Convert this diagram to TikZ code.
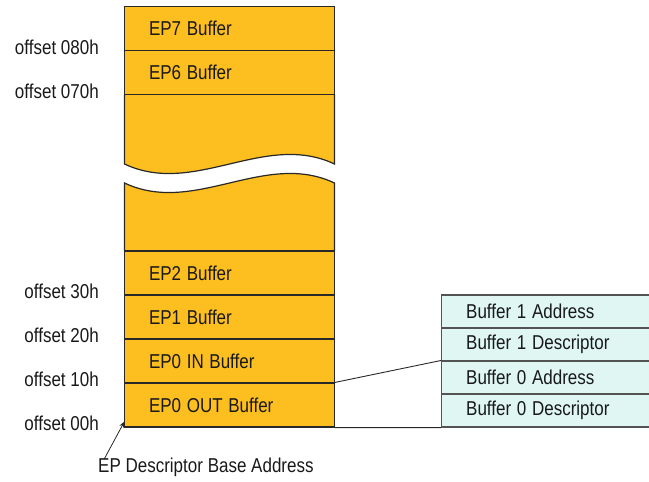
\documentclass[tikz,border=0pt]{standalone}
\usepackage{fontspec}
\setmainfont{Liberation Sans}
\usetikzlibrary{arrows.meta}
\definecolor{bufor}{RGB}{253,191,31}
\definecolor{desccy}{RGB}{223,246,243}
\definecolor{edge}{RGB}{40,40,40}
\definecolor{txt}{RGB}{25,25,25}
\newcommand{\tallt}[1]{\scalebox{1}[1.18]{#1}}
\begin{document}
\begin{tikzpicture}[x=1pt,y=-1pt,
  every node/.style={font=\fontsize{17}{20}\selectfont, text=txt},
  cell/.style={draw=edge, line width=1.2pt, fill=bufor, rectangle, inner xsep=0pt,
    minimum width=210pt, minimum height=44pt, text width=161pt, align=left},
  desc/.style={draw=edge!80, line width=1.1pt, fill=desccy, rectangle, inner xsep=0pt,
    minimum width=220pt, minimum height=33pt, text width=171pt, align=left},
  offs/.style={anchor=east, inner sep=0pt},
  link/.style={draw=edge, line width=0.9pt}]
\clip (0,0) rectangle (649,482);
\useasboundingbox (0,0) rectangle (649,482);
% upper block continuation with wavy bottom
\path[fill=bufor] (124.5,95) -- (124.5,164) .. controls (194.5,197) and (264.5,131) .. (334.5,164) -- (334.5,95) -- cycle;
\draw[edge, line width=1.2pt] (124.5,95) -- (124.5,164) .. controls (194.5,197) and (264.5,131) .. (334.5,164) -- (334.5,95);
% lower block continuation with wavy top
\path[fill=bufor] (124.5,251) -- (124.5,183) .. controls (194.5,216) and (264.5,150) .. (334.5,183) -- (334.5,251) -- cycle;
\draw[edge, line width=1.2pt] (124.5,251) -- (124.5,183) .. controls (194.5,216) and (264.5,150) .. (334.5,183) -- (334.5,251);
% buffer cells
\node[cell] (ep7) at (229.5,28.5) {\tallt{EP7 Buffer}};
\node[cell] (ep6) at (229.5,72.75) {\tallt{EP6 Buffer}};
\node[cell] (ep2) at (229.5,273) {\tallt{EP2 Buffer}};
\node[cell] (ep1) at (229.5,317) {\tallt{EP1 Buffer}};
\node[cell] (ep0in) at (229.5,361) {\tallt{EP0 IN Buffer}};
\node[cell] (ep0out) at (229.5,405) {\tallt{EP0 OUT Buffer}};
% offsets
\node[offs] (o80) at (99,47.5) {\tallt{offset 080h}};
\node[offs] (o70) at (99,91.5) {\tallt{offset 070h}};
\node[offs] (o30) at (99,291.5) {\tallt{offset 30h}};
\node[offs] (o20) at (99,335.5) {\tallt{offset 20h}};
\node[offs] (o10) at (99,379.5) {\tallt{offset 10h}};
\node[offs] (o00) at (99,423) {\tallt{offset 00h}};
% descriptor block
\node[desc] (b1a) at (551.7,311.5) {\tallt{Buffer 1 Address}};
\node[desc] (b1d) at (551.7,344.5) {\tallt{Buffer 1 Descriptor}};
\node[desc] (b0a) at (551.7,377.5) {\tallt{Buffer 0 Address}};
\node[desc] (b0d) at (551.7,410.5) {\tallt{Buffer 0 Descriptor}};
% connectors
\draw[link] (ep0out.north east) -- (b0a.north west);
\draw[link] (ep0out.south east) -- (b0d.south west);
% base address
\node[anchor=west, inner sep=0pt] (base) at (98,467) {\tallt{EP Descriptor Base Address}};
\draw[edge, line width=0.8pt, -{Stealth[length=6pt,width=5pt]}] ([xshift=6pt,yshift=-2pt]base.north west) -- ([xshift=0.5pt,yshift=6pt]ep0out.south west);
\end{tikzpicture}
\end{document}
